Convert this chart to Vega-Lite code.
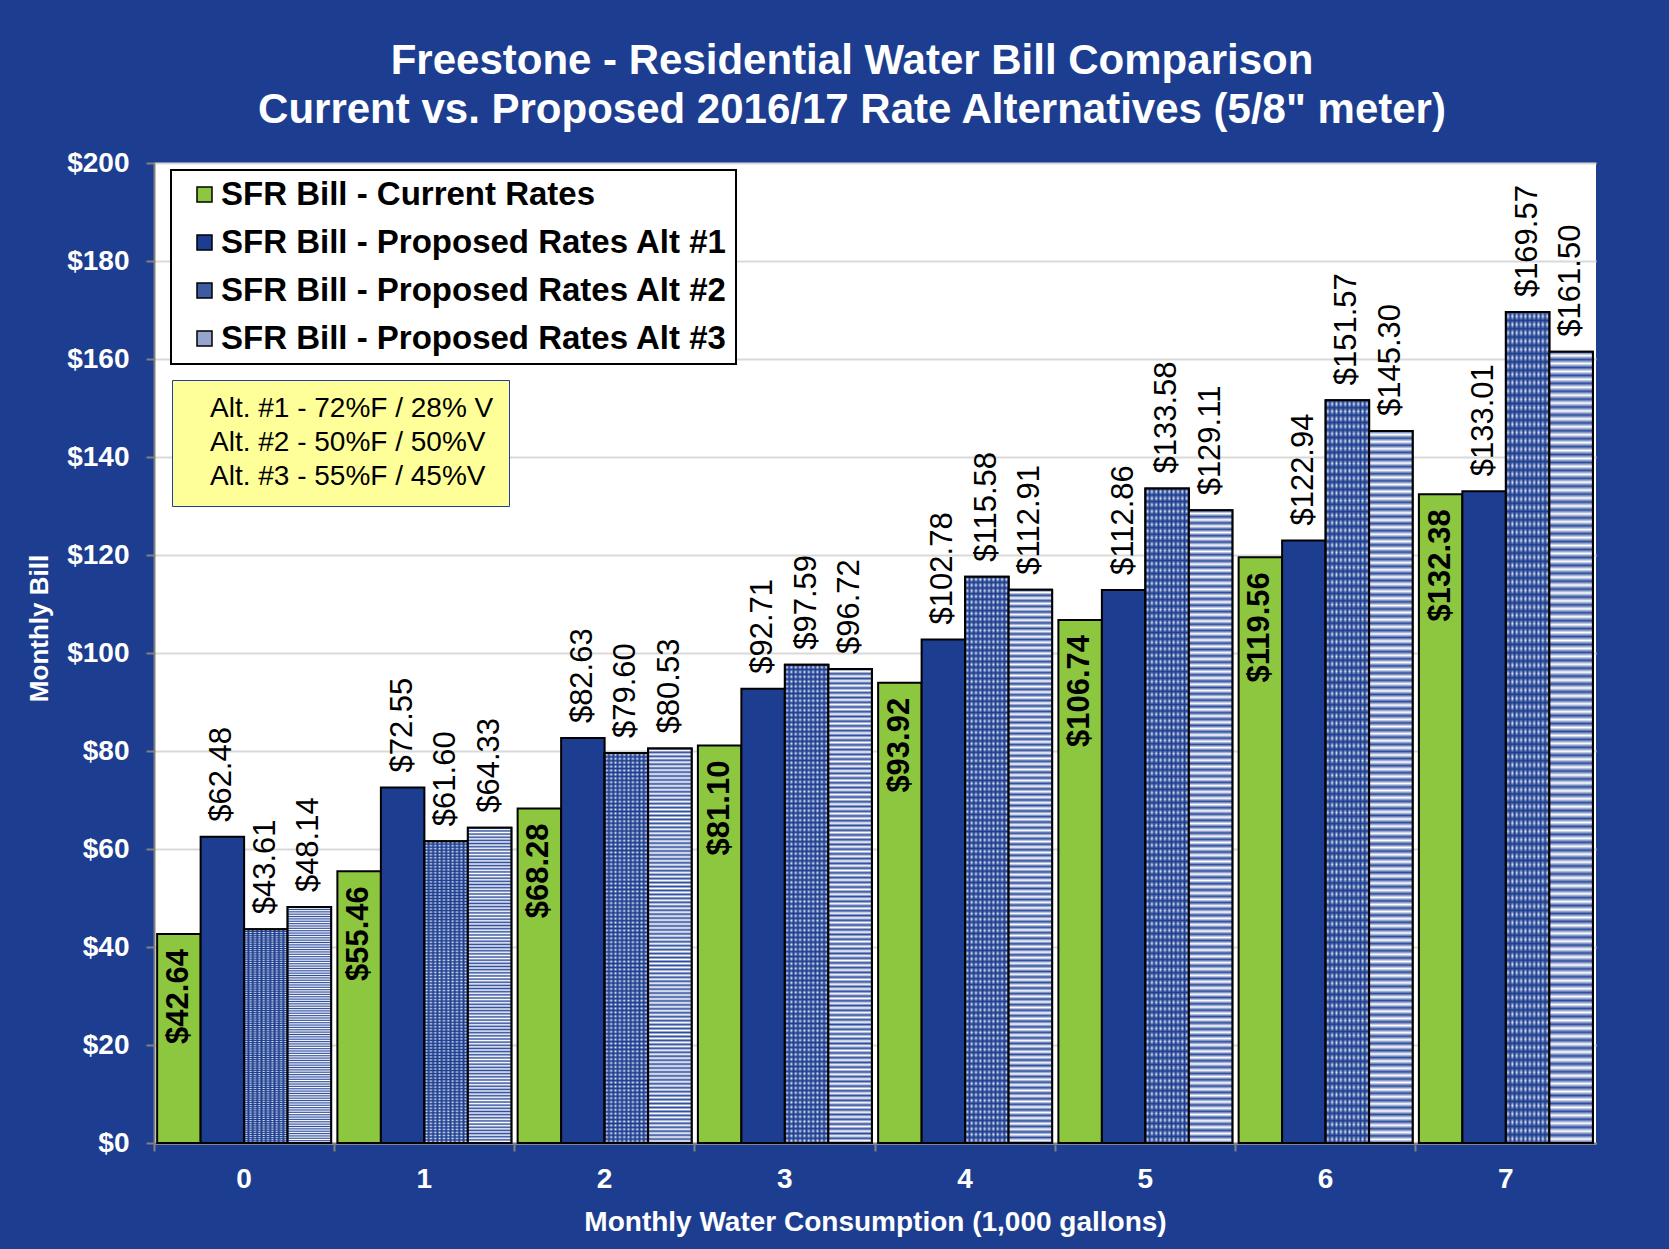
{
  "$schema": "https://vega.github.io/schema/vega-lite/v6.json",
  "width": 1442,
  "height": 980,
  "autosize": {"type": "none"},
  "padding": {"left": 154, "top": 163, "right": 73, "bottom": 106},
  "background": "#1D3E90",
  "view": {"fill": "white", "stroke": null},
  "config": {"view": {"fill": "white", "stroke": null}, "font": "Liberation Sans"},
  "title": {
    "text": ["Freestone - Residential Water Bill Comparison", "Current vs. Proposed 2016/17 Rate Alternatives (5/8\" meter)"],
    "color": "white", "fontSize": 42, "fontWeight": "bold", "font": "Liberation Sans",
    "lineHeight": 49, "offset": 17, "anchor": "middle", "frame": "group", "dx": -23
  },
  "layer": [
    {
      "data": {"values": [
        {"g": "0", "s": "SFR Bill - Current Rates", "v": 42.64},
        {"g": "0", "s": "SFR Bill - Proposed Rates Alt #1", "v": 62.48},
        {"g": "0", "s": "SFR Bill - Proposed Rates Alt #2", "v": 43.61},
        {"g": "0", "s": "SFR Bill - Proposed Rates Alt #3", "v": 48.14},
        {"g": "1", "s": "SFR Bill - Current Rates", "v": 55.46},
        {"g": "1", "s": "SFR Bill - Proposed Rates Alt #1", "v": 72.55},
        {"g": "1", "s": "SFR Bill - Proposed Rates Alt #2", "v": 61.60},
        {"g": "1", "s": "SFR Bill - Proposed Rates Alt #3", "v": 64.33},
        {"g": "2", "s": "SFR Bill - Current Rates", "v": 68.28},
        {"g": "2", "s": "SFR Bill - Proposed Rates Alt #1", "v": 82.63},
        {"g": "2", "s": "SFR Bill - Proposed Rates Alt #2", "v": 79.60},
        {"g": "2", "s": "SFR Bill - Proposed Rates Alt #3", "v": 80.53},
        {"g": "3", "s": "SFR Bill - Current Rates", "v": 81.10},
        {"g": "3", "s": "SFR Bill - Proposed Rates Alt #1", "v": 92.71},
        {"g": "3", "s": "SFR Bill - Proposed Rates Alt #2", "v": 97.59},
        {"g": "3", "s": "SFR Bill - Proposed Rates Alt #3", "v": 96.72},
        {"g": "4", "s": "SFR Bill - Current Rates", "v": 93.92},
        {"g": "4", "s": "SFR Bill - Proposed Rates Alt #1", "v": 102.78},
        {"g": "4", "s": "SFR Bill - Proposed Rates Alt #2", "v": 115.58},
        {"g": "4", "s": "SFR Bill - Proposed Rates Alt #3", "v": 112.91},
        {"g": "5", "s": "SFR Bill - Current Rates", "v": 106.74},
        {"g": "5", "s": "SFR Bill - Proposed Rates Alt #1", "v": 112.86},
        {"g": "5", "s": "SFR Bill - Proposed Rates Alt #2", "v": 133.58},
        {"g": "5", "s": "SFR Bill - Proposed Rates Alt #3", "v": 129.11},
        {"g": "6", "s": "SFR Bill - Current Rates", "v": 119.56},
        {"g": "6", "s": "SFR Bill - Proposed Rates Alt #1", "v": 122.94},
        {"g": "6", "s": "SFR Bill - Proposed Rates Alt #2", "v": 151.57},
        {"g": "6", "s": "SFR Bill - Proposed Rates Alt #3", "v": 145.30},
        {"g": "7", "s": "SFR Bill - Current Rates", "v": 132.38},
        {"g": "7", "s": "SFR Bill - Proposed Rates Alt #1", "v": 133.01},
        {"g": "7", "s": "SFR Bill - Proposed Rates Alt #2", "v": 169.57},
        {"g": "7", "s": "SFR Bill - Proposed Rates Alt #3", "v": 161.50}
      ]},
      "encoding": {
        "x": {
          "field": "g", "type": "nominal",
          "scale": {"paddingInner": 0, "paddingOuter": 0},
          "title": "Monthly Water Consumption  (1,000 gallons)",
          "axis": {
            "labelAngle": 0, "labelFontSize": 28, "labelFontWeight": "bold", "labelColor": "white",
            "labelFont": "Liberation Sans", "labelPadding": 14,
            "tickSize": 8, "tickColor": "#808080", "tickWidth": 2, "bandPosition": 0,
            "domainColor": "#808080", "domainWidth": 2,
            "titleColor": "white", "titleFontSize": 28, "titleFontWeight": "bold",
            "titleFont": "Liberation Sans", "titlePadding": 15
          }
        },
        "xOffset": {
          "field": "s", "type": "nominal",
          "scale": {
            "domain": ["SFR Bill - Current Rates", "SFR Bill - Proposed Rates Alt #1", "SFR Bill - Proposed Rates Alt #2", "SFR Bill - Proposed Rates Alt #3"],
            "paddingOuter": 0.072, "paddingInner": 0
          }
        },
        "y": {
          "field": "v", "type": "quantitative",
          "scale": {"domain": [0, 200]},
          "title": "Monthly Bill",
          "axis": {
            "values": [0, 20, 40, 60, 80, 100, 120, 140, 160, 180, 200],
            "format": "$.0f",
            "labelFontSize": 28, "labelFontWeight": "bold", "labelColor": "white",
            "labelFont": "Liberation Sans", "labelPadding": 17,
            "tickSize": 8, "tickColor": "#808080", "tickWidth": 2,
            "domainColor": "#808080", "domainWidth": 2,
            "gridColor": "#D9D9D9", "gridWidth": 2,
            "titleColor": "white", "titleFontSize": 26, "titleFontWeight": "bold",
            "titleFont": "Liberation Sans", "titleX": -115, "titleY": 465,
            "titleAngle": -90, "titleAlign": "center", "titleBaseline": "middle"
          }
        }
      },
      "layer": [
        {
          "mark": {"type": "bar", "stroke": "black", "strokeWidth": 2},
          "encoding": {
            "color": {
              "field": "s", "type": "nominal",
              "scale": {
                "domain": ["SFR Bill - Current Rates", "SFR Bill - Proposed Rates Alt #1", "SFR Bill - Proposed Rates Alt #2", "SFR Bill - Proposed Rates Alt #3"],
                "range": ["#8DC63F", "#1D3E90", "#3E5AA3", "#95A5CE"]
              },
              "legend": {
                "title": null, "orient": "none", "legendX": 17, "legendY": 7,
                "fillColor": "white", "strokeColor": "black", "padding": 8,
                "symbolType": "square", "symbolSize": 225, "symbolOffset": 9,
                "symbolStrokeColor": "black", "symbolStrokeWidth": 1.5,
                "labelFontSize": 33, "labelFontWeight": "bold", "labelColor": "black",
                "labelFont": "Liberation Sans", "labelLimit": 1000, "labelOffset": 0,
                "rowPadding": 14,
                "encode": {"legend": {"update": {"strokeWidth": {"value": 2}}}}
              }
            }
          }
        },
        {
          "transform": [{"filter": "datum.s === 'SFR Bill - Proposed Rates Alt #2'"}],
          "mark": {"type": "bar", "fill": "#E8ECF6", "strokeWidth": 0}
        },
        {
          "transform": [{"filter": "datum.s === 'SFR Bill - Proposed Rates Alt #2'"}],
          "mark": {"type": "bar", "strokeWidth": 0,
            "fill": {"gradient": "linear", "x1": 0, "y1": 0, "x2": 1, "y2": 0, "stops": [
              {"offset": 0, "color": "#1d3e90"},{"offset": 0.05, "color": "rgba(29,62,144,0)"},
              {"offset": 0.1, "color": "#1d3e90"},{"offset": 0.15, "color": "rgba(29,62,144,0)"},
              {"offset": 0.2, "color": "#1d3e90"},{"offset": 0.25, "color": "rgba(29,62,144,0)"},
              {"offset": 0.3, "color": "#1d3e90"},{"offset": 0.35, "color": "rgba(29,62,144,0)"},
              {"offset": 0.4, "color": "#1d3e90"},{"offset": 0.45, "color": "rgba(29,62,144,0)"},
              {"offset": 0.5, "color": "#1d3e90"},{"offset": 0.55, "color": "rgba(29,62,144,0)"},
              {"offset": 0.6, "color": "#1d3e90"},{"offset": 0.65, "color": "rgba(29,62,144,0)"},
              {"offset": 0.7, "color": "#1d3e90"},{"offset": 0.75, "color": "rgba(29,62,144,0)"},
              {"offset": 0.8, "color": "#1d3e90"},{"offset": 0.85, "color": "rgba(29,62,144,0)"},
              {"offset": 0.9, "color": "#1d3e90"},{"offset": 0.95, "color": "rgba(29,62,144,0)"},
              {"offset": 1, "color": "#1d3e90"}
            ]}
          }
        },
        {
          "transform": [{"filter": "datum.s === 'SFR Bill - Proposed Rates Alt #2'"}],
          "mark": {"type": "bar", "stroke": "black", "strokeWidth": 2,
            "fill": {"gradient": "linear", "x1": 0, "y1": 0, "x2": 0, "y2": 1, "stops": [
              {"offset": 0, "color": "#1d3e90"},{"offset": 0.005, "color": "rgba(29,62,144,0)"},
              {"offset": 0.01, "color": "#1d3e90"},{"offset": 0.015, "color": "rgba(29,62,144,0)"},
              {"offset": 0.02, "color": "#1d3e90"},{"offset": 0.025, "color": "rgba(29,62,144,0)"},
              {"offset": 0.03, "color": "#1d3e90"},{"offset": 0.035, "color": "rgba(29,62,144,0)"},
              {"offset": 0.04, "color": "#1d3e90"},{"offset": 0.045, "color": "rgba(29,62,144,0)"},
              {"offset": 0.05, "color": "#1d3e90"},{"offset": 0.055, "color": "rgba(29,62,144,0)"},
              {"offset": 0.06, "color": "#1d3e90"},{"offset": 0.065, "color": "rgba(29,62,144,0)"},
              {"offset": 0.07, "color": "#1d3e90"},{"offset": 0.075, "color": "rgba(29,62,144,0)"},
              {"offset": 0.08, "color": "#1d3e90"},{"offset": 0.085, "color": "rgba(29,62,144,0)"},
              {"offset": 0.09, "color": "#1d3e90"},{"offset": 0.095, "color": "rgba(29,62,144,0)"},
              {"offset": 0.10, "color": "#1d3e90"},{"offset": 0.105, "color": "rgba(29,62,144,0)"},
              {"offset": 0.11, "color": "#1d3e90"},{"offset": 0.115, "color": "rgba(29,62,144,0)"},
              {"offset": 0.12, "color": "#1d3e90"},{"offset": 0.125, "color": "rgba(29,62,144,0)"},
              {"offset": 0.13, "color": "#1d3e90"},{"offset": 0.135, "color": "rgba(29,62,144,0)"},
              {"offset": 0.14, "color": "#1d3e90"},{"offset": 0.145, "color": "rgba(29,62,144,0)"},
              {"offset": 0.15, "color": "#1d3e90"},{"offset": 0.155, "color": "rgba(29,62,144,0)"},
              {"offset": 0.16, "color": "#1d3e90"},{"offset": 0.165, "color": "rgba(29,62,144,0)"},
              {"offset": 0.17, "color": "#1d3e90"},{"offset": 0.175, "color": "rgba(29,62,144,0)"},
              {"offset": 0.18, "color": "#1d3e90"},{"offset": 0.185, "color": "rgba(29,62,144,0)"},
              {"offset": 0.19, "color": "#1d3e90"},{"offset": 0.195, "color": "rgba(29,62,144,0)"},
              {"offset": 0.20, "color": "#1d3e90"},{"offset": 0.205, "color": "rgba(29,62,144,0)"},
              {"offset": 0.21, "color": "#1d3e90"},{"offset": 0.215, "color": "rgba(29,62,144,0)"},
              {"offset": 0.22, "color": "#1d3e90"},{"offset": 0.225, "color": "rgba(29,62,144,0)"},
              {"offset": 0.23, "color": "#1d3e90"},{"offset": 0.235, "color": "rgba(29,62,144,0)"},
              {"offset": 0.24, "color": "#1d3e90"},{"offset": 0.245, "color": "rgba(29,62,144,0)"},
              {"offset": 0.25, "color": "#1d3e90"},{"offset": 0.255, "color": "rgba(29,62,144,0)"},
              {"offset": 0.26, "color": "#1d3e90"},{"offset": 0.265, "color": "rgba(29,62,144,0)"},
              {"offset": 0.27, "color": "#1d3e90"},{"offset": 0.275, "color": "rgba(29,62,144,0)"},
              {"offset": 0.28, "color": "#1d3e90"},{"offset": 0.285, "color": "rgba(29,62,144,0)"},
              {"offset": 0.29, "color": "#1d3e90"},{"offset": 0.295, "color": "rgba(29,62,144,0)"},
              {"offset": 0.30, "color": "#1d3e90"},{"offset": 0.305, "color": "rgba(29,62,144,0)"},
              {"offset": 0.31, "color": "#1d3e90"},{"offset": 0.315, "color": "rgba(29,62,144,0)"},
              {"offset": 0.32, "color": "#1d3e90"},{"offset": 0.325, "color": "rgba(29,62,144,0)"},
              {"offset": 0.33, "color": "#1d3e90"},{"offset": 0.335, "color": "rgba(29,62,144,0)"},
              {"offset": 0.34, "color": "#1d3e90"},{"offset": 0.345, "color": "rgba(29,62,144,0)"},
              {"offset": 0.35, "color": "#1d3e90"},{"offset": 0.355, "color": "rgba(29,62,144,0)"},
              {"offset": 0.36, "color": "#1d3e90"},{"offset": 0.365, "color": "rgba(29,62,144,0)"},
              {"offset": 0.37, "color": "#1d3e90"},{"offset": 0.375, "color": "rgba(29,62,144,0)"},
              {"offset": 0.38, "color": "#1d3e90"},{"offset": 0.385, "color": "rgba(29,62,144,0)"},
              {"offset": 0.39, "color": "#1d3e90"},{"offset": 0.395, "color": "rgba(29,62,144,0)"},
              {"offset": 0.40, "color": "#1d3e90"},{"offset": 0.405, "color": "rgba(29,62,144,0)"},
              {"offset": 0.41, "color": "#1d3e90"},{"offset": 0.415, "color": "rgba(29,62,144,0)"},
              {"offset": 0.42, "color": "#1d3e90"},{"offset": 0.425, "color": "rgba(29,62,144,0)"},
              {"offset": 0.43, "color": "#1d3e90"},{"offset": 0.435, "color": "rgba(29,62,144,0)"},
              {"offset": 0.44, "color": "#1d3e90"},{"offset": 0.445, "color": "rgba(29,62,144,0)"},
              {"offset": 0.45, "color": "#1d3e90"},{"offset": 0.455, "color": "rgba(29,62,144,0)"},
              {"offset": 0.46, "color": "#1d3e90"},{"offset": 0.465, "color": "rgba(29,62,144,0)"},
              {"offset": 0.47, "color": "#1d3e90"},{"offset": 0.475, "color": "rgba(29,62,144,0)"},
              {"offset": 0.48, "color": "#1d3e90"},{"offset": 0.485, "color": "rgba(29,62,144,0)"},
              {"offset": 0.49, "color": "#1d3e90"},{"offset": 0.495, "color": "rgba(29,62,144,0)"},
              {"offset": 0.50, "color": "#1d3e90"},{"offset": 0.505, "color": "rgba(29,62,144,0)"},
              {"offset": 0.51, "color": "#1d3e90"},{"offset": 0.515, "color": "rgba(29,62,144,0)"},
              {"offset": 0.52, "color": "#1d3e90"},{"offset": 0.525, "color": "rgba(29,62,144,0)"},
              {"offset": 0.53, "color": "#1d3e90"},{"offset": 0.535, "color": "rgba(29,62,144,0)"},
              {"offset": 0.54, "color": "#1d3e90"},{"offset": 0.545, "color": "rgba(29,62,144,0)"},
              {"offset": 0.55, "color": "#1d3e90"},{"offset": 0.555, "color": "rgba(29,62,144,0)"},
              {"offset": 0.56, "color": "#1d3e90"},{"offset": 0.565, "color": "rgba(29,62,144,0)"},
              {"offset": 0.57, "color": "#1d3e90"},{"offset": 0.575, "color": "rgba(29,62,144,0)"},
              {"offset": 0.58, "color": "#1d3e90"},{"offset": 0.585, "color": "rgba(29,62,144,0)"},
              {"offset": 0.59, "color": "#1d3e90"},{"offset": 0.595, "color": "rgba(29,62,144,0)"},
              {"offset": 0.60, "color": "#1d3e90"},{"offset": 0.605, "color": "rgba(29,62,144,0)"},
              {"offset": 0.61, "color": "#1d3e90"},{"offset": 0.615, "color": "rgba(29,62,144,0)"},
              {"offset": 0.62, "color": "#1d3e90"},{"offset": 0.625, "color": "rgba(29,62,144,0)"},
              {"offset": 0.63, "color": "#1d3e90"},{"offset": 0.635, "color": "rgba(29,62,144,0)"},
              {"offset": 0.64, "color": "#1d3e90"},{"offset": 0.645, "color": "rgba(29,62,144,0)"},
              {"offset": 0.65, "color": "#1d3e90"},{"offset": 0.655, "color": "rgba(29,62,144,0)"},
              {"offset": 0.66, "color": "#1d3e90"},{"offset": 0.665, "color": "rgba(29,62,144,0)"},
              {"offset": 0.67, "color": "#1d3e90"},{"offset": 0.675, "color": "rgba(29,62,144,0)"},
              {"offset": 0.68, "color": "#1d3e90"},{"offset": 0.685, "color": "rgba(29,62,144,0)"},
              {"offset": 0.69, "color": "#1d3e90"},{"offset": 0.695, "color": "rgba(29,62,144,0)"},
              {"offset": 0.70, "color": "#1d3e90"},{"offset": 0.705, "color": "rgba(29,62,144,0)"},
              {"offset": 0.71, "color": "#1d3e90"},{"offset": 0.715, "color": "rgba(29,62,144,0)"},
              {"offset": 0.72, "color": "#1d3e90"},{"offset": 0.725, "color": "rgba(29,62,144,0)"},
              {"offset": 0.73, "color": "#1d3e90"},{"offset": 0.735, "color": "rgba(29,62,144,0)"},
              {"offset": 0.74, "color": "#1d3e90"},{"offset": 0.745, "color": "rgba(29,62,144,0)"},
              {"offset": 0.75, "color": "#1d3e90"},{"offset": 0.755, "color": "rgba(29,62,144,0)"},
              {"offset": 0.76, "color": "#1d3e90"},{"offset": 0.765, "color": "rgba(29,62,144,0)"},
              {"offset": 0.77, "color": "#1d3e90"},{"offset": 0.775, "color": "rgba(29,62,144,0)"},
              {"offset": 0.78, "color": "#1d3e90"},{"offset": 0.785, "color": "rgba(29,62,144,0)"},
              {"offset": 0.79, "color": "#1d3e90"},{"offset": 0.795, "color": "rgba(29,62,144,0)"},
              {"offset": 0.80, "color": "#1d3e90"},{"offset": 0.805, "color": "rgba(29,62,144,0)"},
              {"offset": 0.81, "color": "#1d3e90"},{"offset": 0.815, "color": "rgba(29,62,144,0)"},
              {"offset": 0.82, "color": "#1d3e90"},{"offset": 0.825, "color": "rgba(29,62,144,0)"},
              {"offset": 0.83, "color": "#1d3e90"},{"offset": 0.835, "color": "rgba(29,62,144,0)"},
              {"offset": 0.84, "color": "#1d3e90"},{"offset": 0.845, "color": "rgba(29,62,144,0)"},
              {"offset": 0.85, "color": "#1d3e90"},{"offset": 0.855, "color": "rgba(29,62,144,0)"},
              {"offset": 0.86, "color": "#1d3e90"},{"offset": 0.865, "color": "rgba(29,62,144,0)"},
              {"offset": 0.87, "color": "#1d3e90"},{"offset": 0.875, "color": "rgba(29,62,144,0)"},
              {"offset": 0.88, "color": "#1d3e90"},{"offset": 0.885, "color": "rgba(29,62,144,0)"},
              {"offset": 0.89, "color": "#1d3e90"},{"offset": 0.895, "color": "rgba(29,62,144,0)"},
              {"offset": 0.90, "color": "#1d3e90"},{"offset": 0.905, "color": "rgba(29,62,144,0)"},
              {"offset": 0.91, "color": "#1d3e90"},{"offset": 0.915, "color": "rgba(29,62,144,0)"},
              {"offset": 0.92, "color": "#1d3e90"},{"offset": 0.925, "color": "rgba(29,62,144,0)"},
              {"offset": 0.93, "color": "#1d3e90"},{"offset": 0.935, "color": "rgba(29,62,144,0)"},
              {"offset": 0.94, "color": "#1d3e90"},{"offset": 0.945, "color": "rgba(29,62,144,0)"},
              {"offset": 0.95, "color": "#1d3e90"},{"offset": 0.955, "color": "rgba(29,62,144,0)"},
              {"offset": 0.96, "color": "#1d3e90"},{"offset": 0.965, "color": "rgba(29,62,144,0)"},
              {"offset": 0.97, "color": "#1d3e90"},{"offset": 0.975, "color": "rgba(29,62,144,0)"},
              {"offset": 0.98, "color": "#1d3e90"},{"offset": 0.985, "color": "rgba(29,62,144,0)"},
              {"offset": 0.99, "color": "#1d3e90"},{"offset": 0.995, "color": "rgba(29,62,144,0)"},
              {"offset": 1, "color": "#1d3e90"}
            ]}
          }
        },
        {
          "transform": [{"filter": "datum.s === 'SFR Bill - Proposed Rates Alt #3'"}],
          "mark": {"type": "bar", "stroke": "black", "strokeWidth": 2,
            "fill": {"gradient": "linear", "x1": 0, "y1": 0, "x2": 0, "y2": 1, "stops": [
                    {"offset": 0, "color": "#2d4c9d"},{"offset": 0.005, "color": "#fff"},
                    {"offset": 0.01, "color": "#2d4c9d"},{"offset": 0.015, "color": "#fff"},
                    {"offset": 0.02, "color": "#2d4c9d"},{"offset": 0.025, "color": "#fff"},
                    {"offset": 0.03, "color": "#2d4c9d"},{"offset": 0.035, "color": "#fff"},
                    {"offset": 0.04, "color": "#2d4c9d"},{"offset": 0.045, "color": "#fff"},
                    {"offset": 0.05, "color": "#2d4c9d"},{"offset": 0.055, "color": "#fff"},
                    {"offset": 0.06, "color": "#2d4c9d"},{"offset": 0.065, "color": "#fff"},
                    {"offset": 0.07, "color": "#2d4c9d"},{"offset": 0.075, "color": "#fff"},
                    {"offset": 0.08, "color": "#2d4c9d"},{"offset": 0.085, "color": "#fff"},
                    {"offset": 0.09, "color": "#2d4c9d"},{"offset": 0.095, "color": "#fff"},
                    {"offset": 0.10, "color": "#2d4c9d"},{"offset": 0.105, "color": "#fff"},
                    {"offset": 0.11, "color": "#2d4c9d"},{"offset": 0.115, "color": "#fff"},
                    {"offset": 0.12, "color": "#2d4c9d"},{"offset": 0.125, "color": "#fff"},
                    {"offset": 0.13, "color": "#2d4c9d"},{"offset": 0.135, "color": "#fff"},
                    {"offset": 0.14, "color": "#2d4c9d"},{"offset": 0.145, "color": "#fff"},
                    {"offset": 0.15, "color": "#2d4c9d"},{"offset": 0.155, "color": "#fff"},
                    {"offset": 0.16, "color": "#2d4c9d"},{"offset": 0.165, "color": "#fff"},
                    {"offset": 0.17, "color": "#2d4c9d"},{"offset": 0.175, "color": "#fff"},
                    {"offset": 0.18, "color": "#2d4c9d"},{"offset": 0.185, "color": "#fff"},
                    {"offset": 0.19, "color": "#2d4c9d"},{"offset": 0.195, "color": "#fff"},
                    {"offset": 0.20, "color": "#2d4c9d"},{"offset": 0.205, "color": "#fff"},
                    {"offset": 0.21, "color": "#2d4c9d"},{"offset": 0.215, "color": "#fff"},
                    {"offset": 0.22, "color": "#2d4c9d"},{"offset": 0.225, "color": "#fff"},
                    {"offset": 0.23, "color": "#2d4c9d"},{"offset": 0.235, "color": "#fff"},
                    {"offset": 0.24, "color": "#2d4c9d"},{"offset": 0.245, "color": "#fff"},
                    {"offset": 0.25, "color": "#2d4c9d"},{"offset": 0.255, "color": "#fff"},
                    {"offset": 0.26, "color": "#2d4c9d"},{"offset": 0.265, "color": "#fff"},
                    {"offset": 0.27, "color": "#2d4c9d"},{"offset": 0.275, "color": "#fff"},
                    {"offset": 0.28, "color": "#2d4c9d"},{"offset": 0.285, "color": "#fff"},
                    {"offset": 0.29, "color": "#2d4c9d"},{"offset": 0.295, "color": "#fff"},
                    {"offset": 0.30, "color": "#2d4c9d"},{"offset": 0.305, "color": "#fff"},
                    {"offset": 0.31, "color": "#2d4c9d"},{"offset": 0.315, "color": "#fff"},
                    {"offset": 0.32, "color": "#2d4c9d"},{"offset": 0.325, "color": "#fff"},
                    {"offset": 0.33, "color": "#2d4c9d"},{"offset": 0.335, "color": "#fff"},
                    {"offset": 0.34, "color": "#2d4c9d"},{"offset": 0.345, "color": "#fff"},
                    {"offset": 0.35, "color": "#2d4c9d"},{"offset": 0.355, "color": "#fff"},
                    {"offset": 0.36, "color": "#2d4c9d"},{"offset": 0.365, "color": "#fff"},
                    {"offset": 0.37, "color": "#2d4c9d"},{"offset": 0.375, "color": "#fff"},
                    {"offset": 0.38, "color": "#2d4c9d"},{"offset": 0.385, "color": "#fff"},
                    {"offset": 0.39, "color": "#2d4c9d"},{"offset": 0.395, "color": "#fff"},
                    {"offset": 0.40, "color": "#2d4c9d"},{"offset": 0.405, "color": "#fff"},
                    {"offset": 0.41, "color": "#2d4c9d"},{"offset": 0.415, "color": "#fff"},
                    {"offset": 0.42, "color": "#2d4c9d"},{"offset": 0.425, "color": "#fff"},
                    {"offset": 0.43, "color": "#2d4c9d"},{"offset": 0.435, "color": "#fff"},
                    {"offset": 0.44, "color": "#2d4c9d"},{"offset": 0.445, "color": "#fff"},
                    {"offset": 0.45, "color": "#2d4c9d"},{"offset": 0.455, "color": "#fff"},
                    {"offset": 0.46, "color": "#2d4c9d"},{"offset": 0.465, "color": "#fff"},
                    {"offset": 0.47, "color": "#2d4c9d"},{"offset": 0.475, "color": "#fff"},
                    {"offset": 0.48, "color": "#2d4c9d"},{"offset": 0.485, "color": "#fff"},
                    {"offset": 0.49, "color": "#2d4c9d"},{"offset": 0.495, "color": "#fff"},
                    {"offset": 0.50, "color": "#2d4c9d"},{"offset": 0.505, "color": "#fff"},
                    {"offset": 0.51, "color": "#2d4c9d"},{"offset": 0.515, "color": "#fff"},
                    {"offset": 0.52, "color": "#2d4c9d"},{"offset": 0.525, "color": "#fff"},
                    {"offset": 0.53, "color": "#2d4c9d"},{"offset": 0.535, "color": "#fff"},
                    {"offset": 0.54, "color": "#2d4c9d"},{"offset": 0.545, "color": "#fff"},
                    {"offset": 0.55, "color": "#2d4c9d"},{"offset": 0.555, "color": "#fff"},
                    {"offset": 0.56, "color": "#2d4c9d"},{"offset": 0.565, "color": "#fff"},
                    {"offset": 0.57, "color": "#2d4c9d"},{"offset": 0.575, "color": "#fff"},
                    {"offset": 0.58, "color": "#2d4c9d"},{"offset": 0.585, "color": "#fff"},
                    {"offset": 0.59, "color": "#2d4c9d"},{"offset": 0.595, "color": "#fff"},
                    {"offset": 0.60, "color": "#2d4c9d"},{"offset": 0.605, "color": "#fff"},
                    {"offset": 0.61, "color": "#2d4c9d"},{"offset": 0.615, "color": "#fff"},
                    {"offset": 0.62, "color": "#2d4c9d"},{"offset": 0.625, "color": "#fff"},
                    {"offset": 0.63, "color": "#2d4c9d"},{"offset": 0.635, "color": "#fff"},
                    {"offset": 0.64, "color": "#2d4c9d"},{"offset": 0.645, "color": "#fff"},
                    {"offset": 0.65, "color": "#2d4c9d"},{"offset": 0.655, "color": "#fff"},
                    {"offset": 0.66, "color": "#2d4c9d"},{"offset": 0.665, "color": "#fff"},
                    {"offset": 0.67, "color": "#2d4c9d"},{"offset": 0.675, "color": "#fff"},
                    {"offset": 0.68, "color": "#2d4c9d"},{"offset": 0.685, "color": "#fff"},
                    {"offset": 0.69, "color": "#2d4c9d"},{"offset": 0.695, "color": "#fff"},
                    {"offset": 0.70, "color": "#2d4c9d"},{"offset": 0.705, "color": "#fff"},
                    {"offset": 0.71, "color": "#2d4c9d"},{"offset": 0.715, "color": "#fff"},
                    {"offset": 0.72, "color": "#2d4c9d"},{"offset": 0.725, "color": "#fff"},
                    {"offset": 0.73, "color": "#2d4c9d"},{"offset": 0.735, "color": "#fff"},
                    {"offset": 0.74, "color": "#2d4c9d"},{"offset": 0.745, "color": "#fff"},
                    {"offset": 0.75, "color": "#2d4c9d"},{"offset": 0.755, "color": "#fff"},
                    {"offset": 0.76, "color": "#2d4c9d"},{"offset": 0.765, "color": "#fff"},
                    {"offset": 0.77, "color": "#2d4c9d"},{"offset": 0.775, "color": "#fff"},
                    {"offset": 0.78, "color": "#2d4c9d"},{"offset": 0.785, "color": "#fff"},
                    {"offset": 0.79, "color": "#2d4c9d"},{"offset": 0.795, "color": "#fff"},
                    {"offset": 0.80, "color": "#2d4c9d"},{"offset": 0.805, "color": "#fff"},
                    {"offset": 0.81, "color": "#2d4c9d"},{"offset": 0.815, "color": "#fff"},
                    {"offset": 0.82, "color": "#2d4c9d"},{"offset": 0.825, "color": "#fff"},
                    {"offset": 0.83, "color": "#2d4c9d"},{"offset": 0.835, "color": "#fff"},
                    {"offset": 0.84, "color": "#2d4c9d"},{"offset": 0.845, "color": "#fff"},
                    {"offset": 0.85, "color": "#2d4c9d"},{"offset": 0.855, "color": "#fff"},
                    {"offset": 0.86, "color": "#2d4c9d"},{"offset": 0.865, "color": "#fff"},
                    {"offset": 0.87, "color": "#2d4c9d"},{"offset": 0.875, "color": "#fff"},
                    {"offset": 0.88, "color": "#2d4c9d"},{"offset": 0.885, "color": "#fff"},
                    {"offset": 0.89, "color": "#2d4c9d"},{"offset": 0.895, "color": "#fff"},
                    {"offset": 0.90, "color": "#2d4c9d"},{"offset": 0.905, "color": "#fff"},
                    {"offset": 0.91, "color": "#2d4c9d"},{"offset": 0.915, "color": "#fff"},
                    {"offset": 0.92, "color": "#2d4c9d"},{"offset": 0.925, "color": "#fff"},
                    {"offset": 0.93, "color": "#2d4c9d"},{"offset": 0.935, "color": "#fff"},
                    {"offset": 0.94, "color": "#2d4c9d"},{"offset": 0.945, "color": "#fff"},
                    {"offset": 0.95, "color": "#2d4c9d"},{"offset": 0.955, "color": "#fff"},
                    {"offset": 0.96, "color": "#2d4c9d"},{"offset": 0.965, "color": "#fff"},
                    {"offset": 0.97, "color": "#2d4c9d"},{"offset": 0.975, "color": "#fff"},
                    {"offset": 0.98, "color": "#2d4c9d"},{"offset": 0.985, "color": "#fff"},
                    {"offset": 0.99, "color": "#2d4c9d"},{"offset": 0.995, "color": "#fff"},
                    {"offset": 1, "color": "#2d4c9d"}
            ]}
          }
        },
        {
          "transform": [{"filter": "datum.s === 'SFR Bill - Current Rates'"}],
          "mark": {"type": "text", "angle": 270, "align": "right", "baseline": "middle", "dx": -15,
                   "fontSize": 31, "fontWeight": "bold", "font": "Liberation Sans", "color": "black"},
          "encoding": {"text": {"field": "v", "type": "quantitative", "format": "$.2f"}}
        },
        {
          "transform": [{"filter": "datum.s !== 'SFR Bill - Current Rates'"}],
          "mark": {"type": "text", "angle": 270, "align": "left", "baseline": "middle", "dx": 15,
                   "fontSize": 31, "font": "Liberation Sans", "color": "black"},
          "encoding": {"text": {"field": "v", "type": "quantitative", "format": "$.2f"}}
        }
      ]
    },
    {
      "data": {"values": [
        {"t": "Alt. #1 - 72%F / 28% V"},
        {"t": "Alt. #2 - 50%F / 50%V"},
        {"t": "Alt. #3 - 55%F / 45%V"}
      ]},
      "mark": {"type": "point", "opacity": 0},
      "encoding": {
        "shape": {
          "field": "t", "type": "nominal",
          "legend": {
            "title": null, "orient": "none", "legendX": 18, "legendY": 217,
            "fillColor": "#FFFF99", "strokeColor": "#1F3D99", "padding": 15,
            "symbolSize": 0, "symbolOpacity": 0, "symbolStrokeWidth": 0, "symbolOffset": 0,
            "labelFontSize": 28, "labelColor": "black", "labelFont": "Liberation Sans",
            "labelLimit": 1000, "labelOffset": -5, "rowPadding": 6,
            "encode": {"legend": {"update": {"strokeWidth": {"value": 3}}}}
          }
        }
      }
    }
  ]
}
